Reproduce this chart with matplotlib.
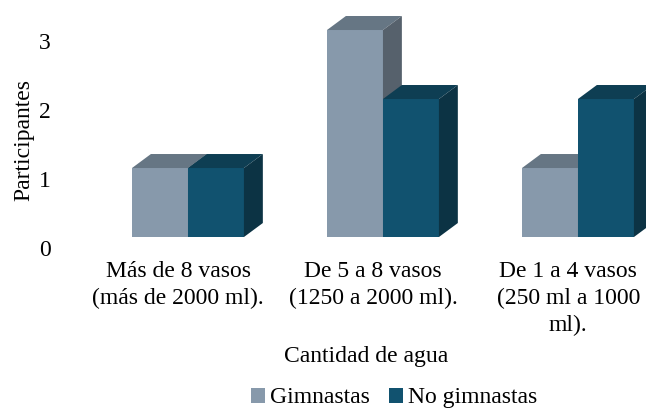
import matplotlib
matplotlib.use("Agg")
import matplotlib.pyplot as plt
from matplotlib.patches import Polygon, Patch

plt.rcParams['font.family'] = ['Liberation Serif', 'DejaVu Serif']

categories = [
    "Más de 8 vasos\n(más de 2000 ml).",
    "De 5 a 8 vasos\n(1250 a 2000 ml).",
    "De 1 a 4 vasos\n(250 ml a 1000\nml).",
]
gimnastas = [1, 3, 1]
no_gimnastas = [1, 2, 2]
y_ticks = [0, 1, 2, 3]

# colours: front, top, side
GIM = ("#8799ab", "#667684", "#56616c")
NOG = ("#11526f", "#0e3e53", "#0c3344")

W = 0.287      # bar width (category units)
DX = 0.097     # depth offset x
DY = 0.203     # depth offset y


def draw_bar(ax, x0, h, colors):
    front, top, side = colors
    x1 = x0 + W
    ax.add_patch(Polygon([(x0, 0), (x1, 0), (x1, h), (x0, h)],
                         closed=True, fc=front, ec="none"))
    ax.add_patch(Polygon([(x0, h), (x1, h), (x1 + DX, h + DY), (x0 + DX, h + DY)],
                         closed=True, fc=top, ec="none"))
    ax.add_patch(Polygon([(x1, 0), (x1 + DX, DY), (x1 + DX, h + DY), (x1, h)],
                         closed=True, fc=side, ec="none"))


fig = plt.figure(figsize=(6.46, 4.12), dpi=100)
ax = fig.add_axes([70 / 646, (412 - 250) / 412, 576 / 646, 240 / 412])
ax.set_xlim(-0.605, 2.349)
ax.set_ylim(-0.188, 3.29)

for i in range(len(categories)):
    draw_bar(ax, i - W, gimnastas[i], GIM)
    draw_bar(ax, i, no_gimnastas[i], NOG)

for s in ax.spines.values():
    s.set_visible(False)

ax.set_yticks([t - 0.155 for t in y_ticks])
ax.set_yticklabels([str(t) for t in y_ticks], fontsize=17)
ax.set_xticks([i - 0.05 for i in range(len(categories))])
ax.set_xticklabels(categories, fontsize=17, linespacing=1.35)
ax.tick_params(axis="y", length=0, pad=14)
ax.tick_params(axis="x", length=0, pad=8)

ax.set_ylabel("Participantes", fontsize=17)
ax.yaxis.set_label_coords(-0.08, 0.458)
ax.yaxis.label.set_va("center")
ax.set_xlabel("Cantidad de agua", fontsize=17)
ax.xaxis.set_label_coords(0.514, -0.40)

handles = [Patch(fc=GIM[0], ec="none", label="Gimnastas"),
           Patch(fc=NOG[0], ec="none", label="No gimnastas")]
fig.legend(handles=handles, loc="center", bbox_to_anchor=(0.61, 0.034),
           ncol=2, frameon=False, fontsize=17, handlelength=0.6,
           handleheight=0.6, handletextpad=0.2, columnspacing=0.8,
           borderpad=0)

fig.savefig("out.png", dpi=100)
